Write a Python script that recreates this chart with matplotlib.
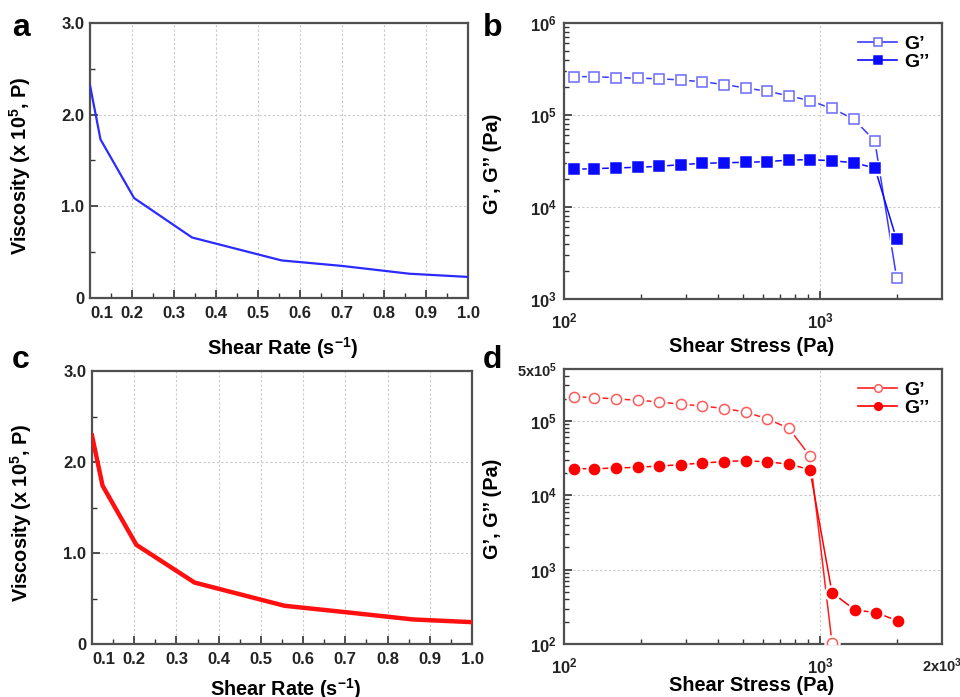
import numpy as np
import matplotlib
matplotlib.use("Agg")
import matplotlib.pyplot as plt
from matplotlib.lines import Line2D
from matplotlib.ticker import FixedLocator, FixedFormatter, NullFormatter, MultipleLocator

plt.rcParams['font.family'] = ['Liberation Sans', 'DejaVu Sans']
plt.rcParams['font.weight'] = 'bold'
plt.rcParams['mathtext.fontset'] = 'custom'
plt.rcParams['mathtext.rm'] = 'Liberation Sans:bold'
plt.rcParams['mathtext.bf'] = 'Liberation Sans:bold'
plt.rcParams['mathtext.it'] = 'Liberation Sans:bold'

# viscosity curves (panels a, c)
rate_a = [0.1, 0.125, 0.205, 0.343, 0.556, 0.70, 0.86, 1.0]
visc_a = [2.32, 1.73, 1.09, 0.66, 0.41, 0.35, 0.265, 0.23]
rate_c = [0.1, 0.125, 0.205, 0.343, 0.556, 0.70, 0.86, 1.0]
visc_c = [2.29, 1.74, 1.09, 0.675, 0.42, 0.35, 0.27, 0.24]

# amplitude sweeps (panels b, d)
stress = [109, 131, 160, 194, 236, 286, 347, 423, 512, 622, 756, 914,
          1110, 1353, 1640, 1993]
gp_b = [2.61e5, 2.61e5, 2.55e5, 2.51e5, 2.48e5, 2.40e5, 2.30e5, 2.14e5,
        1.97e5, 1.81e5, 1.62e5, 1.43e5, 1.18e5, 9.1e4, 5.2e4, 1.71e3]
gpp_b = [2.57e4, 2.61e4, 2.66e4, 2.70e4, 2.77e4, 2.89e4, 2.98e4, 3.03e4,
         3.06e4, 3.11e4, 3.24e4, 3.27e4, 3.19e4, 3.03e4, 2.66e4, 4.45e3]
stress_d_gp = [109, 131, 160, 194, 236, 286, 347, 423, 512, 622, 756, 914, 1115]
gp_d = [2.12e5, 2.06e5, 1.98e5, 1.90e5, 1.80e5, 1.68e5, 1.59e5, 1.47e5,
        1.32e5, 1.07e5, 7.96e4, 3.38e4, 104]
stress_d_gpp = [109, 131, 160, 194, 236, 286, 347, 423, 512, 622, 756, 914,
                1115, 1370, 1660, 2020]
gpp_d = [2.28e4, 2.28e4, 2.33e4, 2.38e4, 2.48e4, 2.58e4, 2.72e4, 2.84e4,
         2.93e4, 2.81e4, 2.64e4, 2.21e4, 491, 287, 264, 204]

W, H = 960, 697
fig = plt.figure(figsize=(W / 100, H / 100), dpi=100)


def box(l, r, t, b):
    return [l / W, 1 - b / H, (r - l) / W, (b - t) / H]


ax_a = fig.add_axes(box(90, 468, 23, 298))
ax_b = fig.add_axes(box(564, 942, 23, 299))
ax_c = fig.add_axes(box(92, 472, 371, 644))
ax_d = fig.add_axes(box(564, 942, 369, 644))

spine_col = '#505050'
LABEL_FS = 14.3
TICK_FS = 12


def style(ax):
    for s in ax.spines.values():
        s.set_color(spine_col)
        s.set_linewidth(1.6)
    ax.tick_params(which='both', direction='in', top=False, right=False,
                   colors='#333333', labelcolor='#222222', labelsize=TICK_FS)
    ax.tick_params(which='major', length=6, width=1.2)
    ax.tick_params(which='minor', length=3.5, width=1.0)
    ax.grid(True, which='major', color='#c8c8c8', ls=(0, (2, 2)), lw=0.8)
    ax.set_axisbelow(True)


def visc_panel(ax, x, y, color, lw, xlab_y):
    style(ax)
    ax.plot(x, y, color=color, lw=lw, zorder=3, solid_joinstyle='miter')
    ax.set_xlim(0.1, 1.0)
    ax.set_ylim(0, 3.0)
    ticks = [0.1, 0.2, 0.3, 0.4, 0.5, 0.6, 0.7, 0.8, 0.9, 1.0]
    ax.set_xticks(ticks)
    ax.set_xticklabels(['%.1f' % t for t in ticks])
    ax.get_xticklabels()[0].set_ha('left')
    ax.xaxis.set_minor_locator(MultipleLocator(0.05))
    ax.set_yticks([0, 1, 2, 3])
    ax.set_yticklabels(['0', '1.0', '2.0', '3.0'])
    ax.yaxis.set_minor_locator(MultipleLocator(0.5))
    ax.tick_params(axis='x', pad=6)
    ax.tick_params(axis='y', pad=4)
    ax.set_xlabel('Shear Rate (s$^{-1}$)', fontsize=LABEL_FS, fontweight='bold')
    ax.set_ylabel('Viscosity (x 10$^{5}$, P)', fontsize=LABEL_FS, fontweight='bold')
    ax.xaxis.set_label_coords(0.51, xlab_y)
    ax.yaxis.set_label_coords(-0.152, 0.48)


def halo_series(ax, x, y, color, marker, filled, ms, edge):
    ax.plot(x, y, '-', color=color, lw=1.1, zorder=2)
    ax.plot(x, y, ls='none', marker=marker, ms=ms + 3.5, mfc='white',
            mec='white', zorder=3)
    ax.plot(x, y, ls='none', marker=marker, ms=ms,
            mfc=color if filled else 'white', mec=edge, mew=1.1, zorder=4)
    return Line2D([], [], color=color, lw=1.2, marker=marker, ms=5.5,
                  mfc=color if filled else 'white', mec=edge, mew=1.1)


def log_panel(ax, xmax_label, xlab_y):
    style(ax)
    ax.set_xscale('log')
    ax.set_yscale('log')
    ax.set_xlim(100, 3000)
    ax.xaxis.set_major_locator(FixedLocator([100, 1000, 3000]))
    ax.xaxis.set_major_formatter(FixedFormatter(
        [r'$\mathbf{10^{2}}$', r'$\mathbf{10^{3}}$', xmax_label]))
    ax.xaxis.set_minor_formatter(NullFormatter())
    ax.tick_params(axis='x', pad=9)
    ax.tick_params(axis='y', pad=5)
    ax.set_xlabel('Shear Stress (Pa)', fontsize=LABEL_FS, fontweight='bold')
    ax.set_ylabel('G\u2019, G\u2019\u2019 (Pa)', fontsize=LABEL_FS, fontweight='bold')
    ax.xaxis.set_label_coords(0.497, xlab_y)
    ax.yaxis.set_label_coords(-0.163, 0.49)


def legend(ax, handles):
    ax.legend(handles, ['G\u2019', 'G\u2019\u2019'], loc='upper right',
              frameon=False, fontsize=14, handlelength=2.0, handletextpad=0.35,
              labelspacing=0.0, borderaxespad=0.25, borderpad=0.4)


# panel a / c
visc_panel(ax_a, rate_a, visc_a, '#2b2bff', 1.6, -0.135)
visc_panel(ax_c, rate_c, visc_c, '#ff1010', 3.2, -0.118)

# panel b
log_panel(ax_b, '', -0.138)
ax_b.set_ylim(1e3, 1e6)
ax_b.yaxis.set_major_locator(FixedLocator([1e3, 1e4, 1e5, 1e6]))
ax_b.yaxis.set_major_formatter(FixedFormatter(
    [r'$\mathbf{10^{3}}$', r'$\mathbf{10^{4}}$', r'$\mathbf{10^{5}}$', r'$\mathbf{10^{6}}$']))
ax_b.yaxis.set_minor_formatter(NullFormatter())
h1 = halo_series(ax_b, stress, gp_b, '#3a3aff', 's', False, 6.8, '#6a6aff')
h2 = halo_series(ax_b, stress, gpp_b, '#0a0aff', 's', True, 6.8, '#0a0aff')
legend(ax_b, [h1, h2])

# panel d
log_panel(ax_d, r'$\mathbf{2x10^{3}}$', -0.118)
ax_d.set_ylim(1e2, 5e5)
ax_d.yaxis.set_major_locator(FixedLocator([1e2, 1e3, 1e4, 1e5, 5e5]))
ax_d.yaxis.set_major_formatter(FixedFormatter(
    [r'$\mathbf{10^{2}}$', r'$\mathbf{10^{3}}$', r'$\mathbf{10^{4}}$',
     r'$\mathbf{10^{5}}$', r'$\mathbf{5x10^{5}}$']))
ax_d.yaxis.set_minor_formatter(NullFormatter())
ax_d.get_yticklabels()[-1].set_fontsize(10.5)
ax_d.get_xticklabels()[-1].set_fontsize(10.5)
h3 = halo_series(ax_d, stress_d_gp, gp_d, '#ff2020', 'o', False, 7.3, '#ff5a5a')
h4 = halo_series(ax_d, stress_d_gpp, gpp_d, '#ff0000', 'o', True, 7.3, '#ff0000')
legend(ax_d, [h3, h4])
for ax in (ax_b, ax_d):
    ax.grid(True, which='major', color='#c8c8c8', ls=(0, (2, 2)), lw=0.8)
    ax.grid(False, which='minor')

# panel letters
for lbl, (px, py) in zip('abcd', [(12, 28), (483, 28), (12, 360), (483, 360)]):
    fig.text(px / W, 1 - py / H, lbl, fontsize=23, fontweight='bold',
             va='center', ha='left')

fig.savefig('out.png', dpi=100)
